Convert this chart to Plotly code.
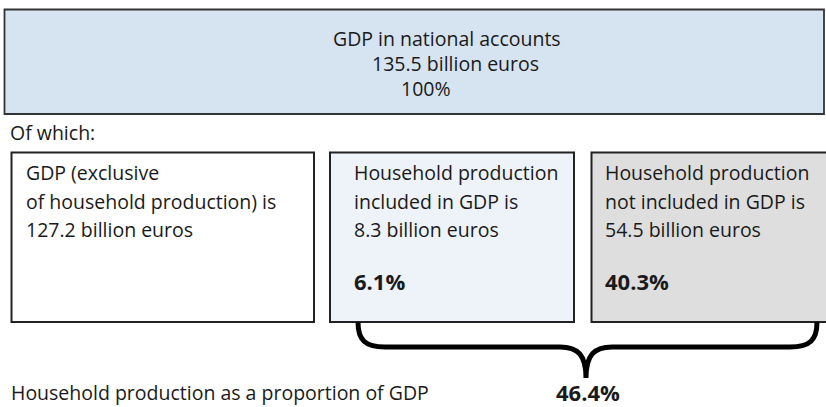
import plotly.graph_objects as go

# ---- data ----
categories = [
    "GDP in national accounts",
    "GDP (exclusive of household production)",
    "Household production included in GDP",
    "Household production not included in GDP",
]
values_bn = [135.5, 127.2, 8.3, 54.5]
shares_pct = [100, None, 6.1, 40.3]
household_share_pct = 46.4
subtitle = "Of which:"
footer_label = "Household production as a proportion of GDP"

W, H = 826, 407
FONT = "Open Sans, Noto Sans, sans-serif"
TXT = "#1a1a1a"
REG = 19.5
BOLD = 22

fig = go.Figure()

shapes = []
annos = []


def box(x0, y0, x1, y1, fill, lw=2, col="#222222"):
    shapes.append(dict(type="rect", xref="x", yref="y", x0=x0, y0=y0, x1=x1, y1=y1,
                       fillcolor=fill, line=dict(color=col, width=lw), layer="below"))


def text(x, baseline, s, size=REG, bold=False, anchor="left"):
    if bold:
        s = f"<b>{s}</b>"
    annos.append(dict(x=x, y=baseline - size * 0.38, xref="x", yref="y", text=s,
                      showarrow=False, xanchor=anchor, yanchor="middle", borderpad=0,
                      font=dict(family=FONT, size=size, color=TXT)))


# top box
box(4.5, 9.5, 824, 114, "#d6e3f0", lw=1.8, col="#333333")
top_lines = [categories[0], f"{values_bn[0]} billion euros", f"{shares_pct[0]}%"]
top_x = [332, 371, 400]
top_base = [46, 71, 96]
for s, x, b in zip(top_lines, top_x, top_base):
    text(x, b, s)

text(9, 140, subtitle)

# lower boxes
box(11.5, 152.5, 314, 322, "#ffffff")
box(330, 152.5, 574, 322, "#eef2f9")
box(591.5, 152.5, 840, 322, "#dedede")

box_lines = [
    ["GDP (exclusive", "of household production) is", f"{values_bn[1]} billion euros"],
    ["Household production", "included in GDP is", f"{values_bn[2]} billion euros"],
    ["Household production", "not included in GDP is", f"{values_bn[3]} billion euros"],
]
box_x = [25, 353, 604]
line_base = [180, 209, 237]
for lines, x in zip(box_lines, box_x):
    for s, b in zip(lines, line_base):
        text(x, b, s)

for i, x in ((2, 353), (3, 604)):
    text(x, 289, f"{shares_pct[i]}%", size=BOLD, bold=True)

# brace
brace = ("M 358,322 C 358,340 365,347 385,347 L 560,347 "
         "C 578,347 586,355 586,378 C 586,355 594,347 612,347 "
         "L 790,347 C 810,347 817,340 817,322")
shapes.append(dict(type="path", path=brace, xref="x", yref="y",
                   line=dict(color="#000000", width=5)))

text(10, 399.5, footer_label)
text(588, 400, f"{household_share_pct}%", size=BOLD, bold=True, anchor="center")

fig.update_layout(
    width=W, height=H,
    margin=dict(l=0, r=0, t=0, b=0),
    paper_bgcolor="#ffffff", plot_bgcolor="#ffffff",
    xaxis=dict(range=[0, W], visible=False, fixedrange=True),
    yaxis=dict(range=[H, 0], visible=False, fixedrange=True),
    shapes=shapes, annotations=annos, showlegend=False,
)

fig.write_html(
    "out.html",
    config={"displayModeBar": False},
    post_script="document.body.style.margin='0';document.body.style.overflow='hidden';",
)
